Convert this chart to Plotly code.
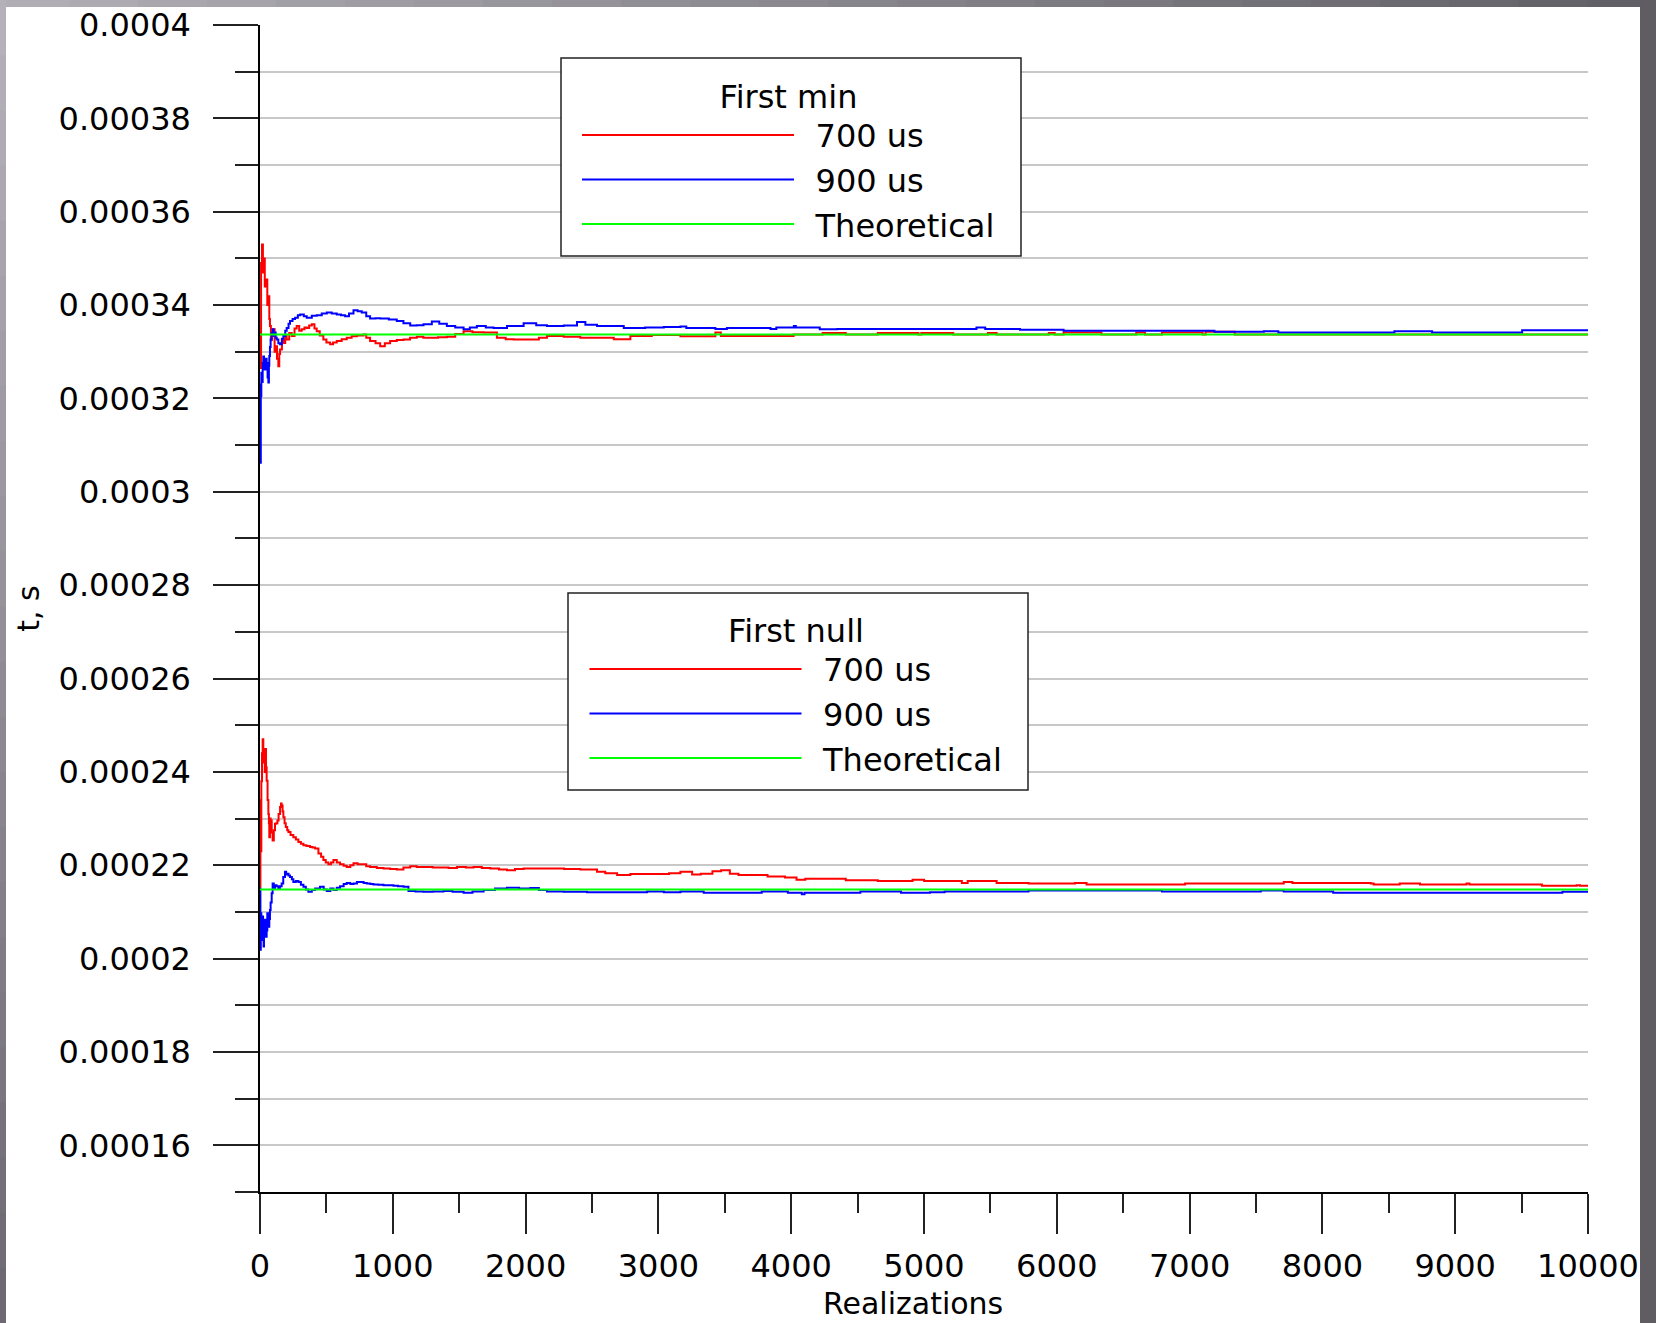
import plotly.graph_objects as go

# ---------------- data ----------------
min700_x = [0, 3, 8, 15, 22, 28, 36, 45, 55, 63, 70, 75, 82, 88, 100, 110, 118, 128, 138, 145, 151, 165, 176, 190, 201,
            220, 239, 260, 276, 295, 314, 335, 352, 370, 390, 410, 427, 450, 477, 500, 528, 550, 578, 615, 653, 690,
            729, 779, 800, 829, 870, 905, 940, 980, 1030, 1081, 1130, 1181, 1230, 1282, 1340, 1407, 1470, 1533, 1600,
            1684, 1784, 1850, 1910, 2036, 2100, 2161, 2287, 2412, 2538, 2664, 2789, 2950, 3166, 3429, 3470, 3538,
            4018, 4237, 4411, 4652, 4958, 4980, 5220, 5482, 5547, 5940, 5984, 6051, 6336, 6598, 6664, 6792, 7098,
            7120, 7340, 10000]
min700_y = [0.0003340, 0.0003265, 0.0003490, 0.0003530, 0.0003470, 0.0003500, 0.0003440, 0.0003455, 0.0003400,
            0.0003419, 0.0003370, 0.0003355, 0.0003325, 0.0003334, 0.0003348, 0.0003300, 0.0003312, 0.0003285,
            0.0003269, 0.0003295, 0.0003305, 0.0003325, 0.0003319, 0.0003335, 0.0003326, 0.0003340, 0.0003334,
            0.0003350, 0.0003355, 0.0003345, 0.0003348, 0.0003352, 0.0003351, 0.0003356, 0.0003359, 0.0003350,
            0.0003344, 0.0003335, 0.0003326, 0.0003320, 0.0003316, 0.0003320, 0.0003323, 0.0003327, 0.0003330,
            0.0003333, 0.0003335, 0.0003337, 0.0003330, 0.0003323, 0.0003318, 0.0003312, 0.0003318, 0.0003323,
            0.0003325, 0.0003326, 0.0003330, 0.0003332, 0.0003330, 0.0003330, 0.0003331, 0.0003332, 0.0003338,
            0.0003344, 0.0003342, 0.0003341, 0.0003330, 0.0003327, 0.0003326, 0.0003326, 0.0003330, 0.0003334,
            0.0003332, 0.0003330, 0.0003330, 0.0003327, 0.0003334, 0.0003336, 0.0003333, 0.0003341, 0.0003334,
            0.0003334, 0.0003337, 0.0003340, 0.0003337, 0.0003340, 0.0003337, 0.0003340, 0.0003337, 0.0003340,
            0.0003337, 0.0003340, 0.0003337, 0.0003341, 0.0003337, 0.0003341, 0.0003337, 0.0003341, 0.0003337,
            0.0003343, 0.0003337, 0.0003337]

min900_x = [0, 3, 6, 10, 15, 20, 25, 30, 38, 45, 50, 57, 63, 67, 70, 75, 80, 88, 95, 102, 108, 118, 126, 138, 151,
            165, 176, 190, 201, 215, 226, 245, 264, 285, 302, 330, 352, 390, 427, 465, 503, 540, 578, 610, 641, 670,
            704, 735, 766, 800, 829, 870, 905, 970, 1030, 1080, 1131, 1180, 1231, 1294, 1350, 1407, 1470, 1533, 1580,
            1633, 1700, 1759, 1860, 1985, 2080, 2161, 2287, 2387, 2450, 2538, 2739, 2900, 3041, 3166, 3210, 3429,
            3516, 3844, 3888, 4020, 4035, 4215, 4347, 5395, 5461, 5723, 6051, 7187, 7559, 7668, 8542, 8826, 9504,
            10000]
min900_y = [0.0003230, 0.0003062, 0.0003205, 0.0003255, 0.0003235, 0.0003276, 0.0003290, 0.0003262, 0.0003262,
            0.0003285, 0.0003276, 0.0003245, 0.0003234, 0.0003270, 0.0003291, 0.0003310, 0.0003326, 0.0003340,
            0.0003348, 0.0003335, 0.0003341, 0.0003330, 0.0003326, 0.0003318, 0.0003316, 0.0003328, 0.0003334,
            0.0003345, 0.0003351, 0.0003360, 0.0003366, 0.0003370, 0.0003373, 0.0003378, 0.0003380, 0.0003376,
            0.0003373, 0.0003377, 0.0003378, 0.0003382, 0.0003384, 0.0003382, 0.0003380, 0.0003378, 0.0003376,
            0.0003382, 0.0003389, 0.0003387, 0.0003384, 0.0003376, 0.0003371, 0.0003372, 0.0003371, 0.0003369,
            0.0003366, 0.0003361, 0.0003356, 0.0003357, 0.0003359, 0.0003365, 0.0003360, 0.0003355, 0.0003352,
            0.0003348, 0.0003352, 0.0003355, 0.0003352, 0.0003351, 0.0003355, 0.0003361, 0.0003357, 0.0003355,
            0.0003356, 0.0003364, 0.0003358, 0.0003355, 0.0003351, 0.0003352, 0.0003353, 0.0003354, 0.0003351,
            0.0003349, 0.0003351, 0.0003349, 0.0003352, 0.0003355, 0.0003352, 0.0003348, 0.0003349, 0.0003352,
            0.0003349, 0.0003347, 0.0003345, 0.0003343, 0.0003344, 0.0003341, 0.0003344, 0.0003341, 0.0003346,
            0.0003346]

null700_x = [0, 3, 6, 10, 15, 20, 25, 30, 36, 40, 45, 50, 57, 63, 67, 70, 75, 80, 88, 95, 104, 113, 122, 131, 140,
             151, 158, 163, 170, 176, 185, 194, 205, 214, 230, 251, 270, 289, 308, 327, 350, 377, 395, 415, 440, 460,
             477, 495, 515, 535, 553, 578, 603, 630, 653, 680, 704, 735, 766, 800, 829, 880, 930, 980, 1030, 1080,
             1131, 1180, 1231, 1300, 1357, 1420, 1483, 1550, 1608, 1670, 1734, 1800, 1860, 1920, 1985, 2070, 2161,
             2290, 2412, 2538, 2600, 2689, 2789, 2900, 2990, 3080, 3166, 3254, 3319, 3407, 3472, 3538, 3603, 3822,
             3953, 4040, 4106, 4411, 4652, 4914, 5001, 5285, 5329, 5547, 5787, 6136, 6224, 6923, 6966, 7709, 7774,
             8364, 8386, 8582, 8735, 9085, 9107, 9653, 9915, 9940, 10000]
null700_y = [0.0002154, 0.0002339, 0.0002230, 0.0002380, 0.0002440, 0.0002470, 0.0002420, 0.0002446, 0.0002400,
             0.0002449, 0.0002410, 0.0002381, 0.0002340, 0.0002310, 0.0002290, 0.0002260, 0.0002300, 0.0002296,
             0.0002270, 0.0002253, 0.0002275, 0.0002289, 0.0002290, 0.0002296, 0.0002310, 0.0002325, 0.0002332,
             0.0002328, 0.0002315, 0.0002303, 0.0002290, 0.0002282, 0.0002275, 0.0002271, 0.0002265, 0.0002260,
             0.0002255, 0.0002250, 0.0002246, 0.0002243, 0.0002241, 0.0002239, 0.0002238, 0.0002236, 0.0002225,
             0.0002218, 0.0002211, 0.0002206, 0.0002202, 0.0002206, 0.0002211, 0.0002206, 0.0002202, 0.0002199,
             0.0002196, 0.0002200, 0.0002204, 0.0002202, 0.0002202, 0.0002198, 0.0002196, 0.0002194, 0.0002193,
             0.0002192, 0.0002191, 0.0002195, 0.0002198, 0.0002196, 0.0002196, 0.0002195, 0.0002195, 0.0002194,
             0.0002196, 0.0002195, 0.0002196, 0.0002194, 0.0002193, 0.0002191, 0.0002189, 0.0002192, 0.0002193,
             0.0002193, 0.0002193, 0.0002192, 0.0002191, 0.0002186, 0.0002183, 0.0002179, 0.0002181, 0.0002181,
             0.0002181, 0.0002183, 0.0002186, 0.0002180, 0.0002182, 0.0002187, 0.0002189, 0.0002182, 0.0002179,
             0.0002176, 0.0002174, 0.0002169, 0.0002171, 0.0002168, 0.0002166, 0.0002169, 0.0002166, 0.0002162,
             0.0002166, 0.0002162, 0.0002161, 0.0002162, 0.0002159, 0.0002159, 0.0002161, 0.0002164, 0.0002162,
             0.0002161, 0.0002159, 0.0002161, 0.0002159, 0.0002161, 0.0002159, 0.0002156, 0.0002157, 0.0002156,
             0.0002156]

null900_x = [0, 3, 6, 10, 15, 20, 23, 27, 30, 35, 40, 45, 50, 55, 60, 65, 70, 75, 80, 88, 95, 104, 113, 125, 138,
             150, 163, 175, 188, 197, 206, 215, 226, 240, 251, 270, 289, 308, 327, 345, 364, 390, 415, 452, 480, 503,
             530, 553, 578, 603, 630, 653, 680, 704, 730, 754, 780, 804, 830, 854, 890, 930, 970, 1005, 1040, 1081,
             1118, 1170, 1231, 1300, 1382, 1450, 1533, 1600, 1684, 1770, 1860, 1950, 2036, 2100, 2161, 2287, 2463,
             2664, 2915, 3041, 3166, 3341, 3778, 3975, 4080, 4100, 4215, 4521, 4827, 5045, 5155, 5787, 6792, 7536,
             7709, 8081, 8234, 9807, 10000]
null900_y = [0.0002150, 0.0002019, 0.0002097, 0.0002040, 0.0002047, 0.0002090, 0.0002060, 0.0002026, 0.0002050,
             0.0002083, 0.0002070, 0.0002047, 0.0002060, 0.0002097, 0.0002080, 0.0002068, 0.0002085, 0.0002104,
             0.0002120, 0.0002140, 0.0002161, 0.0002150, 0.0002157, 0.0002155, 0.0002150, 0.0002155, 0.0002161,
             0.0002175, 0.0002186, 0.0002180, 0.0002182, 0.0002178, 0.0002175, 0.0002170, 0.0002164, 0.0002166,
             0.0002164, 0.0002158, 0.0002154, 0.0002148, 0.0002143, 0.0002147, 0.0002150, 0.0002154, 0.0002148,
             0.0002145, 0.0002150, 0.0002147, 0.0002152, 0.0002155, 0.0002160, 0.0002162, 0.0002160, 0.0002161,
             0.0002164, 0.0002164, 0.0002162, 0.0002161, 0.0002160, 0.0002159, 0.0002158, 0.0002157, 0.0002157,
             0.0002156, 0.0002155, 0.0002154, 0.0002145, 0.0002144, 0.0002143, 0.0002144, 0.0002145, 0.0002143,
             0.0002141, 0.0002144, 0.0002147, 0.0002150, 0.0002152, 0.0002150, 0.0002151, 0.0002147, 0.0002144,
             0.0002143, 0.0002142, 0.0002142, 0.0002144, 0.0002142, 0.0002144, 0.0002141, 0.0002144, 0.0002141,
             0.0002138, 0.0002141, 0.0002141, 0.0002144, 0.0002141, 0.0002142, 0.0002144, 0.0002146, 0.0002144,
             0.0002146, 0.0002144, 0.0002141, 0.0002141, 0.0002143, 0.0002143]

theory_x = [0, 10000]
theory_min = [0.0003337, 0.0003337]
theory_null = [0.0002148, 0.0002148]

series_names = ["700 us", "900 us", "Theoretical"]
legend_titles = ["First min", "First null"]
x_title = "Realizations"
y_title = "t, s"

x_tickvals = [0, 1000, 2000, 3000, 4000, 5000, 6000, 7000, 8000, 9000, 10000]
x_ticktext = ["0", "1000", "2000", "3000", "4000", "5000", "6000", "7000", "8000", "9000", "10000"]
x_minorvals = [500, 1500, 2500, 3500, 4500, 5500, 6500, 7500, 8500, 9500]
y_tickvals = [0.00016, 0.00018, 0.0002, 0.00022, 0.00024, 0.00026, 0.00028, 0.0003, 0.00032, 0.00034,
              0.00036, 0.00038, 0.0004]
y_ticktext = ["0.00016", "0.00018", "0.0002", "0.00022", "0.00024", "0.00026", "0.00028", "0.0003",
              "0.00032", "0.00034", "0.00036", "0.00038", "0.0004"]
y_minorvals = [0.00015, 0.00017, 0.00019, 0.00021, 0.00023, 0.00025, 0.00027, 0.00029, 0.00031, 0.00033,
               0.00035, 0.00037, 0.00039]

# ---------------- figure ----------------
W, H = 1656, 1323
ML, MR, MT, MB = 260, 68, 25, 131
PW, PH = W - ML - MR, H - MT - MB
FONT = "DejaVu Sans"


def px(xp):
    return (xp - ML) / PW


def py(yp):
    return 1 - (yp - MT) / PH


RED, BLUE, GREEN = "#ff0000", "#0000ff", "#00ff00"
GAP = "\u00a0\u2009"

fig = go.Figure()
for xs, ys, name, color, lg in [
    (min700_x, min700_y, series_names[0], RED, "legend"),
    (min900_x, min900_y, series_names[1], BLUE, "legend"),
    (theory_x, theory_min, series_names[2], GREEN, "legend"),
    (null700_x, null700_y, series_names[0], RED, "legend2"),
    (null900_x, null900_y, series_names[1], BLUE, "legend2"),
    (theory_x, theory_null, series_names[2], GREEN, "legend2"),
]:
    fig.add_trace(go.Scatter(x=xs, y=ys, name=GAP + name, mode="lines", legend=lg,
                             line=dict(color=color, width=2, shape="hv")))

legend_common = dict(
    xanchor="left", yanchor="top", bgcolor="rgba(0,0,0,0)", borderwidth=0,
    font=dict(family=FONT, size=32, color="black"), itemwidth=212, tracegroupgap=0,
)
fig.update_layout(
    legend=dict(title=dict(text=legend_titles[0], side="top center", font=dict(family=FONT, size=32)),
                x=px(577), y=py(66), **legend_common),
    legend2=dict(title=dict(text=legend_titles[1], side="top center", font=dict(family=FONT, size=32)),
                 x=px(584.5), y=py(600), **legend_common),
)

grid = "#c8c8c8"
fig.update_xaxes(
    range=[0, 10000], showline=True, linecolor="black", linewidth=1.5, zeroline=False, showgrid=False,
    tickmode="array", tickvals=x_tickvals, ticktext=x_ticktext, ticks="outside", ticklen=40, tickwidth=1.5,
    tickcolor="#222222", ticklabelstandoff=5,
    tickfont=dict(family=FONT, size=32, color="black"),
    minor=dict(tickmode="array", tickvals=x_minorvals, ticks="outside", ticklen=19, tickwidth=1.5,
               tickcolor="#222222", showgrid=False),
)
fig.update_yaxes(
    range=[0.00015, 0.0004], showline=True, linecolor="black", linewidth=1.5, zeroline=False,
    showgrid=True, gridcolor=grid, gridwidth=2,
    tickmode="array", tickvals=y_tickvals, ticktext=y_ticktext, ticks="outside", ticklen=45, tickwidth=1.5,
    tickcolor="#222222", ticklabelstandoff=16,
    tickfont=dict(family=FONT, size=32, color="black"),
    minor=dict(tickmode="array", tickvals=y_minorvals, ticks="outside", ticklen=23, tickwidth=1.5,
               tickcolor="#222222", showgrid=True, gridcolor=grid, gridwidth=2),
    title=dict(text=y_title, font=dict(family=FONT, size=30, color="black"), standoff=10),
)

# x-axis title, placed as in the reference (slightly left of the plot centre)
fig.add_annotation(text=x_title, xref="paper", yref="paper", x=px(913), y=py(1303),
                   xanchor="center", yanchor="middle", showarrow=False,
                   font=dict(family=FONT, size=30, color="black"))

shapes = []
# legend frames (white boxes with a dark border)
for (bx0, by0, bx1, by1) in [(561, 58, 1021, 256), (568, 593, 1028, 790)]:
    shapes.append(dict(type="rect", xref="paper", yref="paper", layer="above",
                       x0=px(bx0), x1=px(bx1), y0=py(by1), y1=py(by0),
                       fillcolor="white", line=dict(color="#222222", width=1.5)))


# window frame (gray bands around the white page)
def hexmix(c1, c2, t):
    a = [int(c1[i:i + 2], 16) for i in (1, 3, 5)]
    b = [int(c2[i:i + 2], 16) for i in (1, 3, 5)]
    return "#" + "".join("%02x" % round(a[k] + (b[k] - a[k]) * t) for k in range(3))


N = 24
for i in range(N):
    x0p, x1p = W * i / N, W * (i + 1) / N
    shapes.append(dict(type="rect", xref="paper", yref="paper", x0=px(x0p), x1=px(x1p + 1),
                       y0=py(7), y1=py(0), line=dict(width=0),
                       fillcolor=hexmix("#b0aeb4", "#626067", i / (N - 1))))
    y0p, y1p = H * i / N, H * (i + 1) / N
    shapes.append(dict(type="rect", xref="paper", yref="paper", x0=px(0), x1=px(6),
                       y0=py(y1p + 1), y1=py(y0p), line=dict(width=0),
                       fillcolor=hexmix("#b4b2b8", "#6c6a70", i / (N - 1))))
shapes.append(dict(type="rect", xref="paper", yref="paper", x0=px(1640), x1=px(W), y0=py(H), y1=py(0),
                   line=dict(width=0), fillcolor="#5f5d62"))

fig.update_layout(
    width=W, height=H, margin=dict(l=ML, r=MR, t=MT, b=MB, autoexpand=False),
    paper_bgcolor="white", plot_bgcolor="white",
    font=dict(family=FONT, color="black"),
    shapes=shapes, showlegend=True,
)

fig.write_html("out.html", config={"displayModeBar": False},
               post_script="document.body.style.margin='0px';document.body.style.overflow='hidden';")
